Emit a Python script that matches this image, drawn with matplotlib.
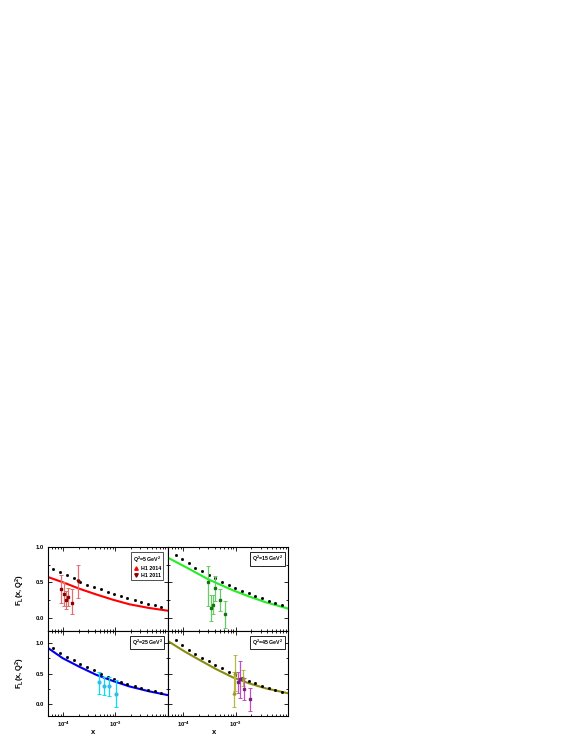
import numpy as np
import matplotlib
matplotlib.use("Agg")
import matplotlib.pyplot as plt
from matplotlib.ticker import LogLocator, MultipleLocator, NullFormatter, FixedLocator

plt.rcParams['font.family'] = ['Liberation Sans', 'DejaVu Sans']
plt.rcParams['mathtext.fontset'] = 'custom'
plt.rcParams['mathtext.rm'] = 'Liberation Sans'
plt.rcParams['mathtext.bf'] = 'Liberation Sans:bold'

# ---------------- data (log10 x, F_L) ----------------
# black dotted predictions
dots_q5_logx = [-4.32, -4.19, -4.06, -3.93, -3.80, -3.67, -3.54, -3.42, -3.28, -3.15,
                -3.03, -2.90, -2.77, -2.63, -2.51, -2.38, -2.24, -2.12]
dots_q5_y = [0.73, 0.69, 0.64, 0.60, 0.56, 0.51, 0.47, 0.43, 0.405, 0.37,
             0.34, 0.31, 0.28, 0.25, 0.22, 0.195, 0.18, 0.15]
dots_q15_logx = [-4.15, -4.02, -3.89, -3.77, -3.64, -3.52, -3.39, -3.26, -3.13, -3.01,
                 -2.88, -2.75, -2.63, -2.50, -2.37, -2.25, -2.12]
dots_q15_y = [0.89, 0.83, 0.77, 0.71, 0.66, 0.605, 0.56, 0.51, 0.46, 0.42,
              0.385, 0.35, 0.31, 0.28, 0.24, 0.21, 0.18]
dots_q25_logx = dots_q5_logx
dots_q25_y = [0.97, 0.91, 0.84, 0.775, 0.715, 0.655, 0.60, 0.55, 0.50, 0.45,
              0.41, 0.37, 0.33, 0.30, 0.27, 0.235, 0.21, 0.185]
dots_q45_logx = dots_q15_logx
dots_q45_y = [1.04, 0.96, 0.89, 0.82, 0.76, 0.70, 0.645, 0.585, 0.53, 0.475,
              0.425, 0.38, 0.34, 0.30, 0.27, 0.235, 0.20]

# solid curves
curve_q5_logx = [-4.35, -4.0, -3.69, -3.37, -3.05, -2.73, -2.37, -2.0]
curve_q5_y = [0.59, 0.50, 0.41, 0.33, 0.255, 0.19, 0.14, 0.10]
curve_q15_logx = [-4.30, -3.94, -3.53, -3.06, -2.74, -2.43, -2.0]
curve_q15_y = [0.85, 0.71, 0.545, 0.39, 0.30, 0.22, 0.13]
curve_q25_logx = [-4.35, -4.01, -3.69, -3.37, -3.05, -2.73, -2.35, -2.0]
curve_q25_y = [0.95, 0.75, 0.61, 0.48, 0.38, 0.29, 0.21, 0.15]
curve_q45_logx = [-4.30, -3.98, -3.69, -3.37, -3.06, -2.74, -2.43, -2.0]
curve_q45_y = [1.03, 0.86, 0.72, 0.57, 0.44, 0.34, 0.26, 0.18]

# measurements: logx, value, upper, lower
h1_q5_logx = [-4.05, -3.99, -3.95, -3.90, -3.83]
h1_q5_y = [0.405, 0.33, 0.25, 0.295, 0.215]
h1_q5_hi = [0.60, 0.50, 0.38, 0.42, 0.41]
h1_q5_lo = [0.21, 0.17, 0.12, 0.17, 0.06]
h1b_q5_logx = [-3.71]
h1b_q5_y = [0.52]
h1b_q5_hi = [0.75]
h1b_q5_lo = [0.28]

h1_q15_logx = [-3.53, -3.48, -3.44, -3.39, -3.31, -3.20]
h1_q15_y = [0.50, 0.14, 0.18, 0.415, 0.25, 0.05]
h1_q15_hi = [0.73, 0.32, 0.32, 0.585, 0.405, 0.23]
h1_q15_lo = [0.17, -0.05, 0.05, 0.24, 0.095, -0.14]

h1_q25_logx = [-3.31, -3.21, -3.12, -2.99]
h1_q25_y = [0.36, 0.29, 0.30, 0.16]
h1_q25_hi = [0.53, 0.44, 0.45, 0.40]
h1_q25_lo = [0.17, 0.15, 0.14, -0.04]

h1a_q45_logx = [-3.04, -3.01, -2.86]
h1a_q45_y = [0.18, 0.51, 0.425]
h1a_q45_hi = [0.53, 0.80, 0.56]
h1a_q45_lo = [-0.04, 0.22, 0.29]
h1b_q45_logx = [-2.96, -2.91, -2.84, -2.72]
h1b_q45_y = [0.36, 0.415, 0.25, 0.087]
h1b_q45_hi = [0.53, 0.70, 0.425, 0.27]
h1b_q45_lo = [0.18, 0.10, 0.065, -0.11]

labels = ["$\\mathbf{Q^2}$=5 GeV$^\\mathbf{2}$", "$\\mathbf{Q^2}$=15 GeV$^\\mathbf{2}$",
          "$\\mathbf{Q^2}$=25 GeV$^\\mathbf{2}$", "$\\mathbf{Q^2}$=45 GeV$^\\mathbf{2}$"]
xticks = [1e-4, 1e-3]
xtick_labels = ["$\\mathbf{10^{-4}}$", "$\\mathbf{10^{-3}}$"]
yticks = [0.0, 0.5, 1.0]

# ---------------- figure ----------------
W, H = 581, 752
fig = plt.figure(figsize=(W / 100, H / 100), dpi=100)

def rect(x0, y0, x1, y1):
    return [x0 / W, 1 - y1 / H, (x1 - x0) / W, (y1 - y0) / H]

ax_tl = fig.add_axes(rect(47.5, 547, 167.7, 630.5))
ax_tr = fig.add_axes(rect(167.7, 547, 288, 630.5))
ax_bl = fig.add_axes(rect(47.5, 630.5, 167.7, 716))
ax_br = fig.add_axes(rect(167.7, 630.5, 288, 716))

def style(ax, ylim, left_labels, bottom_labels):
    ax.set_xscale('log')
    ax.set_xlim(5e-5, 1e-2)
    ax.set_ylim(*ylim)
    ax.xaxis.set_major_locator(FixedLocator(xticks))
    ax.xaxis.set_minor_locator(LogLocator(base=10, subs=np.arange(2, 10), numticks=10))
    ax.xaxis.set_minor_formatter(NullFormatter())
    ax.yaxis.set_major_locator(FixedLocator(yticks))
    ax.yaxis.set_minor_locator(MultipleLocator(0.25))
    ax.tick_params(which='both', direction='in', top=True, right=True, width=0.6)
    ax.tick_params(which='major', length=3, labelsize=4.2, pad=2.5)
    ax.tick_params(which='minor', length=1.5)
    if bottom_labels:
        ax.set_xticklabels(xtick_labels, fontweight='bold')
    else:
        ax.set_xticklabels([])
    if left_labels:
        ax.set_yticklabels(["0.0", "0.5", "1.0"], fontweight='bold')
    else:
        ax.set_yticklabels([])
    for s in ax.spines.values():
        s.set_linewidth(0.8)

style(ax_tl, (-0.18, 1.0), True, False)
style(ax_tr, (-0.18, 1.0), False, False)
style(ax_bl, (-0.19, 1.2), True, True)
style(ax_br, (-0.19, 1.2), False, True)

def px(v):
    return 10 ** np.array(v)

def draw(ax, cx, cy, ccol, dx, dy):
    ax.plot(px(cx), cy, color=ccol, lw=1.5, zorder=2)
    ax.plot(px(dx), dy, ls='none', marker='s', ms=1.0, color='black', zorder=3)

def meas(ax, lx, y, hi, lo, mcol, ecol, marker, ms=2.0):
    y = np.array(y)
    yerr = [y - np.array(lo), np.array(hi) - y]
    ax.errorbar(px(lx), y, yerr=yerr, fmt=marker, color=mcol, ecolor=ecol,
                ms=ms, elinewidth=0.9, capsize=1.5, capthick=0.7, zorder=4)

draw(ax_tl, curve_q5_logx, curve_q5_y, '#ff0000', dots_q5_logx, dots_q5_y)
meas(ax_tl, h1_q5_logx, h1_q5_y, h1_q5_hi, h1_q5_lo, '#8b0000', '#e07070', 's')
meas(ax_tl, h1b_q5_logx, h1b_q5_y, h1b_q5_hi, h1b_q5_lo, '#8b0000', '#e07070', 'v')

draw(ax_tr, curve_q15_logx, curve_q15_y, '#22ee22', dots_q15_logx, dots_q15_y)
meas(ax_tr, h1_q15_logx, h1_q15_y, h1_q15_hi, h1_q15_lo, '#117711', '#66cc66', 's')

draw(ax_bl, curve_q25_logx, curve_q25_y, '#0000ee', dots_q25_logx, dots_q25_y)
meas(ax_bl, h1_q25_logx, h1_q25_y, h1_q25_hi, h1_q25_lo, '#33bbee', '#00e0f0', 'o')

draw(ax_br, curve_q45_logx, curve_q45_y, '#8a8a10', dots_q45_logx, dots_q45_y)
meas(ax_br, h1a_q45_logx, h1a_q45_y, h1a_q45_hi, h1a_q45_lo, '#9a9a20', '#b8b840', '^')
meas(ax_br, h1b_q45_logx, h1b_q45_y, h1b_q45_hi, h1b_q45_lo, '#7a2080', '#c050c0', 's')

# legends / labels boxes
box = dict(boxstyle='square,pad=0.3', fc='white', ec='black', lw=0.6)
from matplotlib.lines import Line2D
h_a = Line2D([], [], ls='none', marker='^', color='#ff0000', ms=2.5)
h_b = Line2D([], [], ls='none', marker='v', color='#8b0000', ms=2.5)
leg = ax_tl.legend([h_a, h_b], ["H1 2014", "H1 2011"], title=labels[0],
                   loc='upper right', fontsize=3.8, title_fontsize=3.8,
                   frameon=True, fancybox=False, edgecolor='black',
                   borderpad=0.4, handletextpad=0.4, handlelength=1.0,
                   labelspacing=0.3, bbox_to_anchor=(0.985, 0.97))
leg.get_frame().set_linewidth(0.6)
for t in leg.get_texts():
    t.set_fontweight('bold')
leg.get_title().set_fontweight('bold')

for ax, lab in [(ax_tr, labels[1]), (ax_bl, labels[2]), (ax_br, labels[3])]:
    ax.text(0.96, 0.92, lab, transform=ax.transAxes, ha='right', va='top',
            fontsize=3.8, fontweight='bold', bbox=box)

ylab = "$\\mathbf{F_L(x,Q^2)}$"
fig.text(20 / W, 1 - 590 / H, ylab, rotation=90, ha='center', va='center', fontsize=5.5)
fig.text(20 / W, 1 - 673 / H, ylab, rotation=90, ha='center', va='center', fontsize=5.5)
fig.text(93 / W, 1 - 732 / H, "x", ha='center', va='center', fontsize=5.5, fontweight='bold')
fig.text(214 / W, 1 - 732 / H, "x", ha='center', va='center', fontsize=5.5, fontweight='bold')

fig.savefig("out.png", dpi=100)
